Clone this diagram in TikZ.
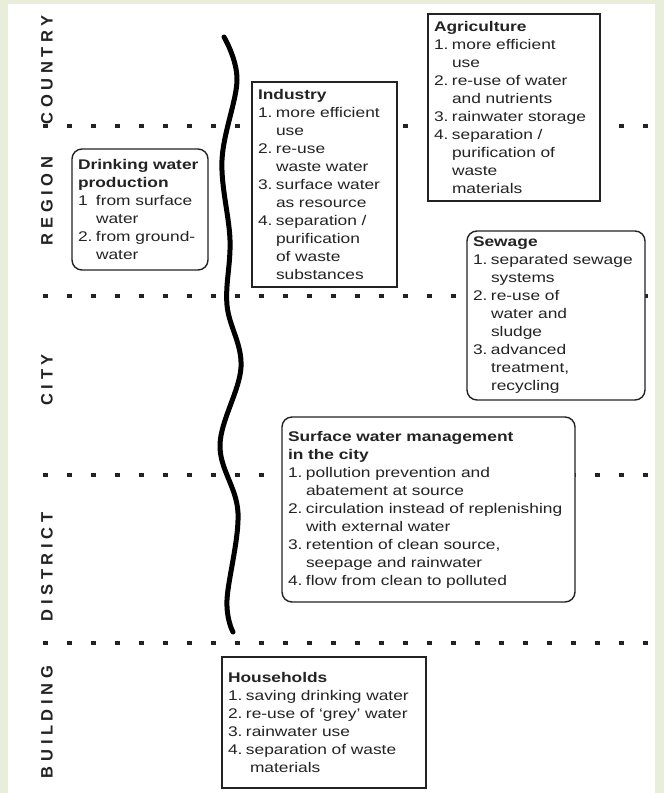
\documentclass[tikz,border=0pt]{standalone}
\usepackage{fontspec}
\setmainfont{Liberation Sans}[FakeStretch=1.24]
\newfontfamily\lvlfont{Liberation Sans Bold}[LetterSpace=28]
\definecolor{edge}{RGB}{233,238,218}
\definecolor{ink}{RGB}{35,35,35}
\newcommand\nr[1]{\makebox[18pt][l]{#1}}
\newcommand\cont{\hspace*{18pt}}

\begin{document}
\begin{tikzpicture}[x=1pt, y=-1pt,
    zone/.style = {draw=ink, line width=1.4pt, fill=white, anchor=north west,
        align=left, inner xsep=6pt, inner ysep=3pt, outer sep=0pt, text=ink,
        font=\fontsize{14}{18}\selectfont},
    zoneround/.style = {zone, rounded corners=10pt},
    lvl/.style = {rotate=90, text=ink, font=\lvlfont\fontsize{16.5}{18}\selectfont},
    sep/.style = {line width=4pt, dash pattern=on 5pt off 19pt, ink},
    wave/.style = {line width=5pt, line cap=round, black}]
\useasboundingbox (0,0) rectangle (664,793);
\fill[edge] (0,0) rectangle (664,793);
\fill[white] (8,4) rectangle (655,793);

% scale boundaries
\foreach \y in {126,296,475,643}
    \draw[sep] (43,\y) -- (650,\y);

% the divide
\draw[wave] plot[smooth, tension=0.6] coordinates {(224,37) (237,80) (222,160)
    (230,240) (227,305) (241,367) (220,445) (238,513) (227,600) (233,632)};

% levels
\node[lvl] (country) at (47,70) {COUNTRY};
\node[lvl] (region) at (47,201) {REGION};
\node[lvl] (city) at (47,380) {CITY};
\node[lvl] (district) at (47,567) {DISTRICT};
\node[lvl] (building) at (47,722) {BUILDING};

% measures
\node[zoneround, minimum width=136pt, minimum height=121pt, text width=124pt] (drinking) at (72,149)
    {\textbf{Drinking water}\\ \textbf{production}\\ \nr{1}from surface\\ \cont water\\
     \nr{2.}from ground-\\ \cont water};
\node[zone, minimum width=145pt, minimum height=205pt, text width=133pt] (industry) at (252,82)
    {\textbf{Industry}\\ \nr{1.}more efficient\\ \cont use\\ \nr{2.}re-use\\ \cont waste water\\
     \nr{3.}surface water\\ \cont as resource\\ \nr{4.}separation /\\ \cont purification\\
     \cont of waste\\ \cont substances};
\node[zone, minimum width=172pt, minimum height=187pt, text width=160pt] (agriculture) at (428,14)
    {\textbf{Agriculture}\\ \nr{1.}more efficient\\ \cont use\\ \nr{2.}re-use of water\\
     \cont and nutrients\\ \nr{3.}rainwater storage\\ \nr{4.}separation /\\ \cont purification of\\
     \cont waste\\ \cont materials};
\node[zoneround, minimum width=178pt, minimum height=169pt, text width=166pt] (sewage) at (467,231)
    {\textbf{Sewage}\\ \nr{1.}separated sewage\\ \cont systems\\ \nr{2.}re-use of\\ \cont water and\\
     \cont sludge\\ \nr{3.}advanced\\ \cont treatment,\\ \cont recycling};
\node[zoneround, minimum width=293pt, minimum height=185pt, text width=281pt] (surface) at (282,417)
    {\textbf{Surface water management}\\ \textbf{in the city}\\
     \nr{1.}pollution prevention and\\ \cont abatement at source\\
     \nr{2.}circulation instead of replenishing\\ \cont with external water\\
     \nr{3.}retention of clean source,\\ \cont seepage and rainwater\\
     \nr{4.}flow from clean to polluted};
\node[zone, minimum width=204pt, minimum height=131pt, text width=192pt] (households) at (222,657)
    {\textbf{Households}\\ \nr{1.}saving drinking water\\ \nr{2.}re-use of `grey' water\\
     \nr{3.}rainwater use\\ \nr{4.}separation of waste\\ \cont\hspace*{4pt}materials};
\end{tikzpicture}
\end{document}
